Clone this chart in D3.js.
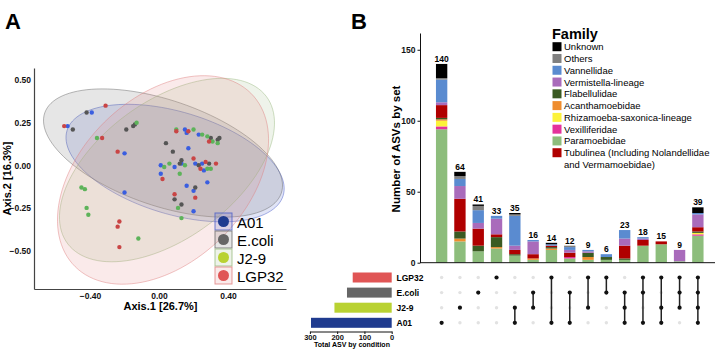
<!DOCTYPE html>
<html>
<head>
<meta charset="utf-8">
<script src="https://cdn.jsdelivr.net/npm/d3@7"></script>
<style>
body { margin: 0; background: #fff; }
text { font-family: "Liberation Sans", Arial, sans-serif; }
</style>
</head>
<body>
<div id="chart"></div>
<script>
// ---- panel A : PCoA ----
const groups = ["A01", "E.coli", "J2-9", "LGP32"];
const a01Points = [[-0.53,0.23],[-0.39,0.31],[-0.20,0.07],[0.15,0.21],[0.16,0.19],[0.23,0.18],[0.17,0.10],
    [0.21,0.01],[0.01,0.00],[0.09,-0.01],[0.13,0.01],[0.01,-0.05],[0.16,-0.12],[0.28,-0.10],[0.20,-0.15],
    [0.26,-0.03],[0.25,0.01],[-0.20,-0.16],[0.20,-0.27]];
const ecoliPoints = [[-0.50,0.21],[-0.42,0.31],[-0.19,0.21],[-0.15,0.23],[-0.14,0.24],[0.04,0.13],[0.08,0.08],
    [0.13,0.03],[0.12,0.01],[0.30,0.16],[0.34,0.15],[0.35,0.16],[0.23,0.00],[0.29,0.01],[0.21,-0.13],
    [0.09,-0.20],[0.13,-0.23]];
const j29Points = [[-0.36,0.16],[-0.13,0.25],[0.10,0.21],[0.20,0.21],[0.25,0.18],[0.28,0.17],[0.31,0.14],
    [0.34,0.13],[0.03,-0.01],[0.06,0.01],[0.15,0.00],[0.12,-0.05],[0.28,-0.02],[0.30,-0.02],[0.11,-0.25],
    [-0.45,-0.13],[-0.43,-0.14],[-0.42,-0.25],[-0.41,-0.29],[-0.12,-0.43],[0.13,-0.31]];
const lgp32Points = [[-0.55,0.23],[-0.31,0.35],[-0.33,0.16],[-0.24,0.08],[0.10,0.20],[0.17,0.20],[0.29,0.14],
    [0.20,0.04],[0.27,0.02],[0.33,0.01],[0.24,-0.02],[0.02,-0.08],[0.09,-0.17],[0.21,-0.19],[-0.23,-0.33],
    [-0.24,-0.36],[-0.23,-0.48]];
// ellipse: centre x, centre y, semi-axis a, semi-axis b, angle (deg)
const ellipses = [[0.093,0.013,0.655,0.30,-17],[0.023,0.072,0.725,0.31,-19],
    [0.046,-0.028,0.72,0.40,37],[0.023,-0.086,0.72,0.48,45]];
const xTicksA = [-0.4, 0, 0.4];
const yTicksA = [-0.5, -0.25, 0, 0.25, 0.5];

// ---- panel B : UpSet ----
const sets = ["LGP32", "E.coli", "J2-9", "A01"];
const setSizes = [143, 164, 210, 296];
const combos = [["A01"],["J2-9"],["E.coli"],["LGP32"],["J2-9","A01"],["E.coli","J2-9"],["LGP32","A01"],
    ["E.coli","A01"],["LGP32","J2-9"],["LGP32","E.coli"],["E.coli","J2-9","A01"],["LGP32","E.coli","A01"],
    ["LGP32","J2-9","A01"],["LGP32","E.coli","J2-9"],["LGP32","E.coli","J2-9","A01"]];
// stack order bottom -> top
const families = ["Paramoebidae","Vexilliferidae","Rhizamoeba-saxonica-lineage","Acanthamoebidae",
    "Flabellulidae","Tubulinea","Vermistella-lineage","Vannellidae","Others","Unknown"];
const paramoebidae   = [94,15,8,10,5,2,9,3,2,2,2,12,13,1,19];
const vexilliferidae = [2,0,0,0,0,0,0,1,0,0,0,0,0,0,1];
const rhizamoeba     = [4,0,0,0,0,0,0,0,0,0,0,0,0,0,1];
const acanthamoeb    = [1,2,0,1,0,1,1,0,2,0,0,0,0,0,0];
const flabellulidae  = [1,5,4,7,1,0,1,0,3,2,1,0,0,0,1];
const tubulinea      = [9,23,12,2,3,3,1,3,0,0,9,4,2,0,3];
const vermistella    = [2,9,4,11,3,9,0,2,1,0,5,1,0,8,9];
const vannellidae    = [16,5,9,2,21,1,1,2,1,2,6,1,0,0,1];
const others         = [1,2,3,0,1,0,0,1,0,0,0,0,0,0,0];
const unknown        = [10,3,1,0,1,0,1,0,0,0,0,0,0,0,4];
const legendOrder = ["Unknown","Others","Vannellidae","Vermistella-lineage","Flabellulidae","Acanthamoebidae",
    "Rhizamoeba-saxonica-lineage","Vexilliferidae","Paramoebidae","Tubulinea"];
const yTicksB = [0, 50, 100, 150];
const setTicks = [300, 200, 100, 0];

const famColor = {
    "Unknown": "#000000", "Others": "#808080", "Vannellidae": "#5a8bd0", "Vermistella-lineage": "#a96bbb",
    "Flabellulidae": "#3a5a22", "Acanthamoebidae": "#ef8d2e", "Rhizamoeba-saxonica-lineage": "#fcf23a",
    "Vexilliferidae": "#e4329c", "Paramoebidae": "#8dbd7c", "Tubulinea": "#b00000"
};
const ptColor = {"A01": "#3a5ee0", "E.coli": "#555555", "J2-9": "#5db35a", "LGP32": "#c94545"};
const ellFill = {"A01": "#4a5cc8", "E.coli": "#6a6a6a", "J2-9": "#9aba80", "LGP32": "#e08080"};
const keyColor = {"A01": "#1f3b8f", "E.coli": "#666666", "J2-9": "#b9d232", "LGP32": "#e05555"};

function main(){
    let width = 719, height = 349;
    let svg = d3.select("#chart").append("svg")
        .attr("width", width)
        .attr("height", height);

    // ===== panel A =====
    let x = d3.scaleLinear().domain([-0.725, 0.736]).range([34, 286]);
    let y = d3.scaleLinear().domain([-0.726, 0.571]).range([289, 68]);

    svg.append("text").attr("x", 5).attr("y", 29)
        .attr("font-size", 22).attr("font-weight", "bold").text("A");

    let line = d3.line().x(d => x(d[0])).y(d => y(d[1]));
    function ellipsePts(p){
        const t = p[4] * Math.PI / 180;
        return d3.range(0, 361, 3).map(function(k){
            const f = k * Math.PI / 180;
            return [p[0] + p[2]*Math.cos(f)*Math.cos(t) - p[3]*Math.sin(f)*Math.sin(t),
                    p[1] + p[2]*Math.cos(f)*Math.sin(t) + p[3]*Math.sin(f)*Math.cos(t)];
        });
    }
    svg.append("g").selectAll("path")
        .data(ellipses)
        .enter()
        .append("path")
        .attr("d", d => line(ellipsePts(d)))
        .attr("fill", (d, i) => ellFill[groups[i]])
        .attr("fill-opacity", 0.17)
        .attr("stroke", (d, i) => ellFill[groups[i]])
        .attr("stroke-opacity", 0.6)
        .attr("stroke-width", 0.8);

    let pts = [a01Points, ecoliPoints, j29Points, lgp32Points];
    pts.forEach(function(arr, i){
        svg.append("g").selectAll("circle")
            .data(arr)
            .enter()
            .append("circle")
            .attr("cx", d => x(d[0]))
            .attr("cy", d => y(d[1]))
            .attr("r", 2.2)
            .attr("fill", ptColor[groups[i]]);
    });

    let xAxisA = svg.append("g").attr("transform", "translate(0,289)")
        .call(d3.axisBottom(x).tickValues(xTicksA).tickFormat(d3.format(".2f")).tickSize(0).tickSizeOuter(0).tickPadding(4));
    let yAxisA = svg.append("g").attr("transform", "translate(34,0)")
        .call(d3.axisLeft(y).tickValues(yTicksA).tickFormat(d3.format(".2f")).tickSize(0).tickSizeOuter(0).tickPadding(3));
    [xAxisA, yAxisA].forEach(function(g){
        g.select(".domain").attr("stroke", "#444").attr("stroke-width", 1.2);
        g.selectAll("text").attr("font-size", 8.5).attr("font-weight", "bold").attr("fill", "#111")
            .attr("font-family", "Liberation Sans, Arial, sans-serif");
    });
    svg.append("text").attr("x", 160.5).attr("y", 310).attr("text-anchor", "middle")
        .attr("font-size", 11).attr("font-weight", "bold").text("Axis.1 [26.7%]");
    svg.append("text").attr("transform", "translate(10.5,178.5) rotate(-90)").attr("text-anchor", "middle")
        .attr("font-size", 11).attr("font-weight", "bold").text("Axis.2 [16.3%]");

    // legend A
    let legA = svg.append("g").attr("transform", "translate(215,213)");
    groups.forEach(function(gname, i){
        let row = legA.append("g").attr("transform", "translate(0," + (i*18) + ")");
        row.append("rect").attr("x", 0).attr("y", 0).attr("width", 17).attr("height", 17)
            .attr("fill", ellFill[gname]).attr("fill-opacity", 0.17)
            .attr("stroke", ellFill[gname]).attr("stroke-opacity", 0.8).attr("stroke-width", 1);
        row.append("circle").attr("cx", 8.5).attr("cy", 8.5).attr("r", 5.5).attr("fill", keyColor[gname]);
        row.append("text").attr("x", 22).attr("y", 14.5).attr("font-size", 15).text(gname);
    });

    // ===== panel B =====
    svg.append("text").attr("x", 351).attr("y", 29)
        .attr("font-size", 22).attr("font-weight", "bold").text("B");

    let famSeries = {
        "Paramoebidae": paramoebidae, "Vexilliferidae": vexilliferidae, "Rhizamoeba-saxonica-lineage": rhizamoeba,
        "Acanthamoebidae": acanthamoeb, "Flabellulidae": flabellulidae, "Tubulinea": tubulinea,
        "Vermistella-lineage": vermistella, "Vannellidae": vannellidae, "Others": others, "Unknown": unknown
    };
    let table = combos.map(function(c, i){
        let row = {id: i};
        families.forEach(f => row[f] = famSeries[f][i]);
        return row;
    });
    let totals = table.map(r => d3.sum(families, f => r[f]));

    let xb = d3.scaleBand().domain(d3.range(combos.length)).range([429, 710.5]).padding(0.38);
    let yb = d3.scaleLinear().domain([0, 161.8]).range([262.7, 33]);

    let stack = d3.stack().keys(families)(table);
    svg.append("g").selectAll("g")
        .data(stack)
        .enter()
        .append("g")
        .attr("fill", d => famColor[d.key])
        .selectAll("rect")
        .data(d => d)
        .enter()
        .append("rect")
        .attr("x", d => xb(d.data.id))
        .attr("y", d => yb(d[1]))
        .attr("width", xb.bandwidth())
        .attr("height", d => yb(d[0]) - yb(d[1]));

    svg.append("g").selectAll("text")
        .data(totals)
        .enter()
        .append("text")
        .attr("x", (d, i) => xb(i) + xb.bandwidth()/2)
        .attr("y", d => yb(d) - 2)
        .attr("text-anchor", "middle")
        .attr("font-size", 8.5)
        .attr("font-weight", "bold")
        .text(d => d);

    let yAxisB = svg.append("g").attr("transform", "translate(420,0)")
        .call(d3.axisLeft(yb).tickValues(yTicksB).tickSize(2.5).tickSizeOuter(0).tickPadding(2));
    yAxisB.select(".domain").attr("stroke", "#111");
    yAxisB.selectAll(".tick line").attr("stroke", "#111");
    yAxisB.selectAll("text").attr("font-size", 8.5).attr("font-weight", "bold").attr("fill", "#111")
        .attr("font-family", "Liberation Sans, Arial, sans-serif");
    svg.append("line").attr("x1", 420).attr("x2", 715).attr("y1", yb(0)).attr("y2", yb(0))
        .attr("stroke", "#111").attr("stroke-width", 1);
    svg.append("text").attr("transform", "translate(400,149) rotate(-90)").attr("text-anchor", "middle")
        .attr("font-size", 11.5).attr("font-weight", "bold").text("Number of ASVs by set");

    // matrix
    let ys = d3.scalePoint().domain(sets).range([277.5, 322.8]);
    let mat = svg.append("g");
    combos.forEach(function(c, i){
        let cx = xb(i) + xb.bandwidth()/2;
        sets.forEach(function(s){
            if (c.indexOf(s) < 0) {
                mat.append("circle").attr("cx", cx).attr("cy", ys(s)).attr("r", 1.7).attr("fill", "#e2e2e2");
            }
        });
        let ext = d3.extent(c, s => ys(s));
        if (c.length > 1) {
            mat.append("line").attr("x1", cx).attr("x2", cx).attr("y1", ext[0]).attr("y2", ext[1])
                .attr("stroke", "#222").attr("stroke-width", 1.5);
        }
        c.forEach(function(s){
            mat.append("circle").attr("cx", cx).attr("cy", ys(s)).attr("r", 2.1).attr("fill", "#111");
        });
    });

    // set size bars
    let xs = d3.scaleLinear().domain([0, 300]).range([391.7, 309.9]);
    svg.append("g").selectAll("rect")
        .data(setSizes)
        .enter()
        .append("rect")
        .attr("x", d => xs(d))
        .attr("y", (d, i) => ys(sets[i]) - 5)
        .attr("width", d => xs(0) - xs(d))
        .attr("height", 10)
        .attr("fill", (d, i) => keyColor[sets[i]]);
    svg.append("g").selectAll("text")
        .data(sets)
        .enter()
        .append("text")
        .attr("x", 396.5)
        .attr("y", d => ys(d) + 3)
        .attr("font-size", 8.5)
        .attr("font-weight", "bold")
        .text(d => d);
    let xAxisS = svg.append("g").attr("transform", "translate(0,331.5)")
        .call(d3.axisBottom(xs).tickValues(setTicks).tickSize(2.5).tickSizeOuter(0).tickPadding(1));
    xAxisS.select(".domain").attr("stroke", "#111");
    xAxisS.selectAll(".tick line").attr("stroke", "#111");
    xAxisS.selectAll("text").attr("font-size", 7.5).attr("font-weight", "bold").attr("fill", "#111")
        .attr("font-family", "Liberation Sans, Arial, sans-serif");
    svg.append("text").attr("x", 352).attr("y", 347).attr("text-anchor", "middle")
        .attr("font-size", 7).attr("font-weight", "bold").text("Total ASV by condition");

    // family legend
    let legB = svg.append("g").attr("transform", "translate(552,0)");
    legB.append("text").attr("x", 0).attr("y", 38.5).attr("font-size", 14.5).attr("font-weight", "bold").text("Family");
    legendOrder.forEach(function(f, i){
        let cy = 46.7 + i*11.78;
        legB.append("rect").attr("x", 0.5).attr("y", cy - 4.5).attr("width", 9).attr("height", 9).attr("fill", famColor[f]);
        let label = f === "Tubulinea" ? "Tubulinea (Including Nolandellidae" : f;
        legB.append("text").attr("x", 12).attr("y", cy + 3.5).attr("font-size", 9.5).text(label);
        if (f === "Tubulinea") {
            legB.append("text").attr("x", 12).attr("y", cy + 15.3).attr("font-size", 9.5).text("and Vermamoebidae)");
        }
    });
}

main();
</script>
</body>
</html>
